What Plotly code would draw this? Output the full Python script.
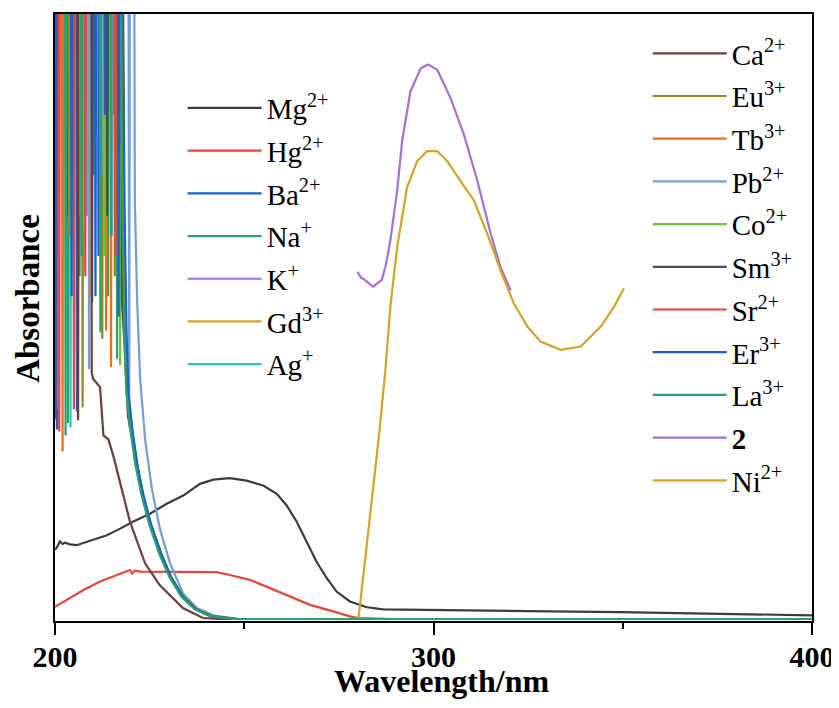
import plotly.graph_objects as go

# ---------------- data (wavelength nm, absorbance a.u.) ----------------
mg_x = [200.0, 200.4, 201.3, 202.0, 202.6, 204.0, 205.7, 208.0, 210.1, 213.7, 217.2, 220.7, 225.1,
        229.5, 233.9, 238.3, 241.8, 246.2, 250.6, 255.0, 258.6, 261.2, 263.9, 266.5, 269.1,
        271.8, 274.4, 277.9, 282.4, 286.7, 299.1, 325.0, 349.3, 375.0, 394.7, 400.0]
mg_y = [0.345, 0.352, 0.384, 0.372, 0.378, 0.370, 0.366, 0.380, 0.391, 0.415, 0.448, 0.483, 0.522,
        0.571, 0.612, 0.670, 0.691, 0.698, 0.686, 0.662, 0.621, 0.563, 0.481, 0.383, 0.284,
        0.202, 0.136, 0.087, 0.058, 0.048, 0.044, 0.039, 0.034, 0.027, 0.020, 0.018]

hg_x = [200.0, 204.0, 207.5, 211.9, 216.3, 219.8, 220.4, 221.1, 222.5, 229.5, 236.5, 242.7,
        246.2, 251.5, 256.8, 262.1, 267.4, 273.5, 277.9, 280.1, 290.0, 400.0]
hg_y = [0.060, 0.103, 0.144, 0.186, 0.218, 0.243, 0.226, 0.240, 0.235, 0.235, 0.235, 0.232,
        0.218, 0.194, 0.153, 0.112, 0.070, 0.038, 0.013, 0.005, 0.0, 0.0]

ba_x = [200.0, 200.3, 200.5, 200.7, 202.8, 203.0, 203.2, 205.6, 205.8, 206.0, 211.3, 211.5, 211.7,
        215.3, 215.5, 215.7, 217.6, 218.2, 218.7, 219.2, 220.3, 221.6,
        223.2, 225.3, 227.9, 230.6, 233.8, 237.2, 241.2, 247.8, 400.0]
ba_y = [3.6, 3.6, 0.94, 3.6, 3.6, 2.3, 3.6, 3.6, 1.03, 3.6, 3.6, 1.8, 3.6,
        3.6, 2.5, 3.6, 3.6, 2.07, 1.43, 1.14, 0.94, 0.77,
        0.62, 0.47, 0.33, 0.21, 0.11, 0.05, 0.015, 0.0, 0.0]

na_x = [200.0, 203.2, 203.4, 203.6, 206.3, 206.5, 206.7, 210.0, 210.2, 210.4, 213.8, 214.0, 214.2,
        216.2, 216.4, 216.6, 217.3, 217.9, 218.4, 218.9, 220.0, 221.3,
        222.9, 225.0, 227.6, 230.3, 233.5, 236.9, 240.9, 247.5, 400.0]
na_y = [3.6, 3.6, 0.97, 3.6, 3.6, 1.7, 3.6, 3.6, 2.2, 3.6, 3.6, 1.6, 3.6,
        3.6, 1.29, 3.6, 3.6, 2.07, 1.43, 1.14, 0.94, 0.77,
        0.62, 0.47, 0.325, 0.21, 0.11, 0.05, 0.015, 0.0, 0.0]

k_x = [200.0, 217.5, 218.1, 218.6, 219.1, 220.2, 221.5, 223.1, 225.2, 227.8, 230.5, 233.7,
       237.1, 241.1, 247.7, 400.0]
k_y = [3.6, 3.6, 2.07, 1.43, 1.14, 0.94, 0.77, 0.62, 0.47, 0.325, 0.21, 0.11,
       0.05, 0.015, 0.0, 0.0]

gd_x = [200.0, 217.5, 218.1, 218.6, 219.1, 220.2, 221.5, 223.1, 225.2, 227.8, 230.5, 233.7,
        237.1, 241.1, 247.7, 400.0]
gd_y = [3.6, 3.6, 2.07, 1.43, 1.14, 0.94, 0.77, 0.62, 0.47, 0.325, 0.21, 0.11,
        0.05, 0.015, 0.0, 0.0]

ag_x = [200.0, 203.9, 204.1, 204.3, 208.3, 208.5, 208.7, 217.5, 218.1, 218.6, 219.1, 220.2,
        221.5, 223.1, 225.2, 227.8, 230.5, 233.7, 237.1, 241.1, 247.7, 400.0]
ag_y = [3.6, 3.6, 0.95, 3.6, 3.6, 2.0, 3.6, 3.6, 2.07, 1.43, 1.14, 0.94,
        0.77, 0.62, 0.47, 0.325, 0.21, 0.11, 0.05, 0.015, 0.0, 0.0]

ca_x = [200.0, 203.3, 203.5, 203.7, 205.9, 206.1, 206.3, 209.5, 209.7, 210.1, 211.9, 212.8,
        214.1, 215.4, 217.6, 219.8, 223.8, 227.7, 233.8, 239.1, 243.6, 400.0]
ca_y = [3.6, 3.6, 2.0, 3.6, 3.6, 0.985, 3.6, 3.6, 1.22, 1.19, 1.15, 0.91,
        0.89, 0.81, 0.645, 0.483, 0.276, 0.167, 0.054, 0.005, 0.0, 0.0]

eu_x = [200.0, 203.5, 203.7, 203.9, 207.1, 207.3, 207.5, 212.3, 212.5, 212.7, 215.6, 215.8, 216.0,
        217.5, 218.1, 218.6, 219.1, 220.2, 221.5,
        223.1, 225.2, 227.8, 230.5, 233.7, 237.1, 241.1, 247.7, 400.0]
eu_y = [3.6, 3.6, 1.9, 3.6, 3.6, 1.05, 3.6, 3.6, 1.39, 3.6, 3.6, 1.7, 3.6,
        3.6, 2.07, 1.43, 1.14, 0.94, 0.77,
        0.62, 0.47, 0.325, 0.21, 0.11, 0.05, 0.015, 0.0, 0.0]

tb_x = [200.0, 201.8, 202.0, 202.2, 204.3, 204.5, 204.7, 209.2, 209.4, 209.6, 210.8, 211.0, 211.2,
        213.3, 213.5, 213.7, 214.6, 214.8, 215.0, 217.4, 218.0, 218.5,
        219.0, 220.1, 221.4, 223.0, 225.1, 227.7, 230.4, 233.6, 237.0, 241.0, 247.6, 400.0]
tb_y = [3.6, 3.6, 0.83, 3.6, 3.6, 2.1, 3.6, 3.6, 1.6, 3.6, 3.6, 2.4, 3.6,
        3.6, 1.43, 3.6, 3.6, 1.25, 3.6, 3.6, 2.07, 1.43,
        1.14, 0.94, 0.77, 0.62, 0.47, 0.325, 0.21, 0.11, 0.05, 0.015, 0.0, 0.0]

pb_x = [200.0, 200.3, 200.5, 200.7, 207.5, 207.7, 207.9, 208.8, 209.0, 209.2, 212.6, 212.8, 213.0,
        214.8, 215.0, 215.2, 219.4, 219.6, 219.8, 220.9, 221.1, 221.7,
        222.5, 223.8, 225.6, 227.7, 230.4, 233.8, 237.5, 242.3, 248.9, 400.0]
pb_y = [3.6, 3.6, 1.04, 3.6, 3.6, 1.93, 3.6, 3.6, 1.24, 3.6, 3.6, 2.2, 3.6,
        3.6, 1.9, 3.6, 3.6, 0.95, 3.6, 3.6, 2.07, 1.58,
        1.19, 0.89, 0.645, 0.448, 0.276, 0.128, 0.054, 0.015, 0.0, 0.0]

co_x = [200.0, 206.6, 206.8, 207.0, 212.8, 213.0, 213.2, 217.0, 217.2, 217.4, 217.6, 218.2,
        218.7, 219.2, 220.3, 221.6, 223.2, 225.3, 227.9, 230.6, 233.8, 237.2, 241.2, 247.8, 400.0]
co_y = [3.6, 3.6, 2.0, 3.6, 3.6, 1.8, 3.6, 3.6, 1.26, 3.6, 3.6, 2.07,
        1.43, 1.14, 0.94, 0.77, 0.62, 0.47, 0.33, 0.21, 0.11, 0.05, 0.015, 0.0, 0.0]

sm_x = [200.0, 204.6, 204.8, 205.0, 209.6, 209.8, 210.0, 213.6, 213.8, 214.0, 217.5, 217.7,
        218.4, 218.9, 219.3, 220.3, 221.6, 223.2, 225.3, 227.9, 230.6, 233.8, 237.2, 241.2,
        247.8, 400.0]
sm_y = [3.6, 3.6, 2.2, 3.6, 3.6, 1.57, 3.6, 3.6, 2.0, 3.6, 3.6, 1.57,
        1.35, 1.14, 1.0, 0.93, 0.77, 0.62, 0.47, 0.33, 0.21, 0.11, 0.05, 0.015,
        0.0, 0.0]

sr_x = [200.0, 200.9, 201.1, 201.3, 204.8, 205.0, 205.2, 207.8, 208.0, 208.2, 211.8, 212.0, 212.2,
        215.8, 216.0, 216.2, 217.5, 218.1, 218.6, 219.1, 220.2, 221.5,
        223.1, 225.2, 227.8, 230.5, 233.7, 237.1, 241.1, 247.7, 400.0]
sr_y = [3.6, 3.6, 0.93, 3.6, 3.6, 1.04, 3.6, 3.6, 1.7, 3.6, 3.6, 2.3, 3.6,
        3.6, 1.8, 3.6, 3.6, 2.07, 1.43, 1.14, 0.94, 0.77,
        0.62, 0.47, 0.325, 0.21, 0.11, 0.05, 0.015, 0.0, 0.0]

er_x = [200.0, 200.3, 200.5, 204.2, 204.4, 204.6, 210.5, 210.7, 210.9, 213.0, 213.2, 213.4,
        216.6, 216.8, 217.0, 217.8, 218.4, 218.9, 219.4, 220.5, 221.8,
        223.4, 225.5, 228.1, 230.8, 234.0, 237.4, 241.4, 248.0, 400.0]
er_y = [3.6, 0.99, 3.6, 3.6, 1.6, 3.6, 3.6, 1.60, 3.6, 3.6, 2.5, 3.6,
        3.6, 1.5, 3.6, 3.6, 2.0, 1.42, 1.12, 0.93, 0.76,
        0.61, 0.46, 0.32, 0.20, 0.105, 0.045, 0.012, 0.0, 0.0]

la_x = [200.0, 202.6, 202.8, 203.0, 206.8, 207.0, 207.2, 211.8, 212.0, 212.2, 214.6, 214.8, 215.0,
        217.2, 217.8, 218.3, 218.8, 219.9, 221.2,
        222.8, 224.9, 227.5, 230.2, 233.4, 236.8, 240.8, 247.4, 400.0]
la_y = [3.6, 3.6, 0.91, 3.6, 3.6, 1.8, 3.6, 3.6, 1.42, 3.6, 3.6, 1.9, 3.6,
        3.6, 2.07, 1.43, 1.14, 0.94, 0.77,
        0.62, 0.47, 0.325, 0.21, 0.11, 0.05, 0.015, 0.0, 0.0]

p2_x = [279.9, 280.8, 281.9, 283.0, 284.1, 285.1, 286.3, 287.4, 288.6, 290.4, 291.7, 293.9,
        296.6, 298.5, 301.0, 304.5, 308.0, 311.6, 315.1, 317.7, 320.4]
p2_y = [1.721, 1.694, 1.680, 1.665, 1.647, 1.665, 1.680, 1.754, 1.877, 2.123, 2.369, 2.616,
        2.730, 2.750, 2.723, 2.583, 2.404, 2.172, 1.911, 1.745, 1.630]

ni_x = [280.2, 282.0, 284.0, 285.5, 287.3, 288.6, 290.4, 293.0, 295.7, 298.3, 301.0, 303.6,
        307.1, 310.7, 314.2, 317.7, 321.2, 324.8, 328.3, 333.6, 338.9, 344.2, 347.7, 350.3]
ni_y = [0.005, 0.305, 0.640, 0.892, 1.236, 1.548, 1.844, 2.139, 2.271, 2.320, 2.320, 2.271,
        2.172, 2.074, 1.911, 1.729, 1.566, 1.450, 1.376, 1.335, 1.351, 1.450, 1.548, 1.640]

x_ticks = [200, 300, 400]
x_minor_ticks = [250, 350]

# name, x, y, colour, legend
series = [
    ("Mg<sup>2+</sup>", mg_x, mg_y, "#3c3c3c", "legend"),
    ("Hg<sup>2+</sup>", hg_x, hg_y, "#e8453c", "legend"),
    ("Ba<sup>2+</sup>", ba_x, ba_y, "#1d5fd1", "legend"),
    ("Na<sup>+</sup>", na_x, na_y, "#2aa36b", "legend"),
    ("K<sup>+</sup>", k_x, k_y, "#a36fdb", "legend"),
    ("Gd<sup>3+</sup>", gd_x, gd_y, "#d6a324", "legend"),
    ("Ag<sup>+</sup>", ag_x, ag_y, "#1fc9c9", "legend"),
    ("Ca<sup>2+</sup>", ca_x, ca_y, "#703d3d", "legend2"),
    ("Eu<sup>3+</sup>", eu_x, eu_y, "#8c8c21", "legend2"),
    ("Tb<sup>3+</sup>", tb_x, tb_y, "#f26b1d", "legend2"),
    ("Pb<sup>2+</sup>", pb_x, pb_y, "#6f9fd4", "legend2"),
    ("Co<sup>2+</sup>", co_x, co_y, "#70c22f", "legend2"),
    ("Sm<sup>3+</sup>", sm_x, sm_y, "#4b4b4b", "legend2"),
    ("Sr<sup>2+</sup>", sr_x, sr_y, "#e8453c", "legend2"),
    ("Er<sup>3+</sup>", er_x, er_y, "#1d5fd1", "legend2"),
    ("La<sup>3+</sup>", la_x, la_y, "#2aa36b", "legend2"),
    ("<b>2</b>", p2_x, p2_y, "#a36fdb", "legend2"),
    ("Ni<sup>2+</sup>", ni_x, ni_y, "#d6a324", "legend2"),
]

fig = go.Figure()
for i, (name, xs, ys, col, lg) in enumerate(series):
    fig.add_trace(go.Scatter(x=xs, y=ys, mode="lines", name=name,
                             line=dict(color=col, width=2.2),
                             legend=lg, legendgroup="g%d" % i))

serif = "Liberation Serif, Times New Roman, serif"
leg_common = dict(font=dict(family=serif, size=29, color="black"),
                  bgcolor="rgba(0,0,0,0)", borderwidth=0, itemwidth=74,
                  traceorder="grouped", tracegroupgap=2,
                  xanchor="left", yanchor="top")

# the page adds an 8 px body margin, so the figure is 8 px smaller and shifted
fig.update_layout(
    width=831, height=700,
    margin=dict(l=47, r=27, t=4, b=87),
    paper_bgcolor="white", plot_bgcolor="white",
    showlegend=True,
    legend=dict(x=0.1686, y=0.887, **leg_common),
    legend2=dict(x=0.783, y=0.977, **leg_common),
    xaxis=dict(range=[200, 400], tickmode="array", tickvals=x_ticks,
               ticks="outside", ticklen=12, tickwidth=2, tickcolor="black",
               ticklabelstandoff=-4,
               minor=dict(tickmode="array", tickvals=x_minor_ticks, ticks="outside",
                          ticklen=6, tickwidth=2, tickcolor="black"),
               showline=True, linecolor="black", linewidth=2, mirror=True,
               showgrid=False, zeroline=False,
               tickfont=dict(family=serif, size=30, color="black", weight="bold")),
    yaxis=dict(range=[-0.01, 3.0], showticklabels=False, ticks="",
               showline=True, linecolor="black", linewidth=2, mirror=True,
               showgrid=False, zeroline=False),
    annotations=[
        dict(text="<b>Absorbance</b>", textangle=-90, x=-0.036, y=0.532,
             xref="paper", yref="paper", xanchor="center", yanchor="middle",
             showarrow=False, font=dict(family=serif, size=33, color="black")),
        dict(text="<b>Wavelength/nm</b>", x=0.511, y=-0.0985,
             xref="paper", yref="paper", xanchor="center", yanchor="middle",
             showarrow=False, font=dict(family=serif, size=32, color="black")),
    ],
)

fig.write_html("out.html")
